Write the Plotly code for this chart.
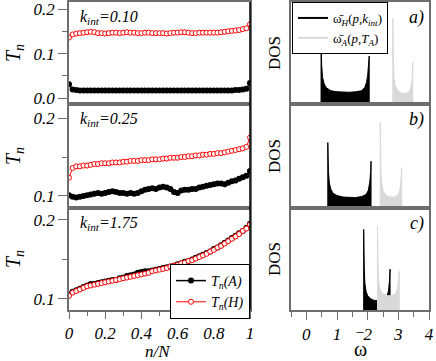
import plotly.graph_objects as go
from plotly.subplots import make_subplots

# n/N sample positions
nN = [0.00, 0.02, 0.04, 0.06, 0.08, 0.10, 0.12, 0.14, 0.16, 0.18,
      0.20, 0.22, 0.24, 0.26, 0.28, 0.30, 0.32, 0.34, 0.36, 0.38,
      0.40, 0.42, 0.44, 0.46, 0.48, 0.50, 0.52, 0.54, 0.56, 0.58,
      0.60, 0.62, 0.64, 0.66, 0.68, 0.70, 0.72, 0.74, 0.76, 0.78,
      0.80, 0.82, 0.84, 0.86, 0.88, 0.90, 0.92, 0.94, 0.96, 0.98, 1.00]

# k_int = 0.10
tA_010 = [0.031, 0.019, 0.018, 0.017, 0.017, 0.017, 0.017, 0.017, 0.017, 0.017,
          0.017, 0.017, 0.017, 0.017, 0.017, 0.017, 0.017, 0.017, 0.017, 0.017,
          0.017, 0.017, 0.017, 0.017, 0.017, 0.017, 0.017, 0.017, 0.017, 0.017,
          0.017, 0.017, 0.017, 0.017, 0.017, 0.017, 0.017, 0.017, 0.017, 0.017,
          0.017, 0.017, 0.017, 0.017, 0.017, 0.017, 0.018, 0.018, 0.019, 0.021, 0.034]
tH_010 = [0.136, 0.143, 0.145, 0.146, 0.147, 0.148, 0.149, 0.148, 0.146, 0.146,
          0.145, 0.146, 0.147, 0.147, 0.146, 0.147, 0.148, 0.147, 0.147, 0.146,
          0.146, 0.147, 0.147, 0.146, 0.146, 0.146, 0.146, 0.145, 0.146, 0.147,
          0.147, 0.148, 0.148, 0.147, 0.146, 0.146, 0.147, 0.147, 0.147, 0.147,
          0.147, 0.147, 0.148, 0.149, 0.150, 0.151, 0.152, 0.153, 0.155, 0.157, 0.166]

# k_int = 0.25
tA_025 = [0.101, 0.099, 0.098, 0.099, 0.100, 0.101, 0.102, 0.103, 0.104, 0.103,
          0.104, 0.105, 0.106, 0.105, 0.104, 0.104, 0.103, 0.104, 0.103, 0.104,
          0.106, 0.108, 0.109, 0.110, 0.109, 0.111, 0.112, 0.111, 0.109, 0.105,
          0.104, 0.107, 0.108, 0.108, 0.109, 0.109, 0.111, 0.112, 0.113, 0.114,
          0.115, 0.116, 0.116, 0.115, 0.117, 0.119, 0.120, 0.122, 0.124, 0.126, 0.132]
tH_025 = [0.1235, 0.136, 0.138, 0.138, 0.139, 0.139, 0.140, 0.141, 0.141, 0.142,
          0.142, 0.142, 0.143, 0.143, 0.143, 0.144, 0.144, 0.145, 0.145, 0.145,
          0.146, 0.146, 0.146, 0.147, 0.147, 0.147, 0.148, 0.148, 0.149, 0.149,
          0.149, 0.150, 0.150, 0.151, 0.151, 0.152, 0.152, 0.153, 0.153, 0.154,
          0.154, 0.155, 0.155, 0.156, 0.157, 0.158, 0.159, 0.160, 0.161, 0.163, 0.175]

# k_int = 1.75
tA_175 = [0.106, 0.109, 0.111, 0.113, 0.115, 0.117, 0.119, 0.119, 0.120, 0.121,
          0.122, 0.123, 0.124, 0.124, 0.126, 0.127, 0.129, 0.130, 0.131, 0.133,
          0.134, 0.135, 0.135, 0.136, 0.137, 0.138, 0.139, 0.140, 0.141, 0.142,
          0.144, 0.145, 0.147, 0.148, 0.150, 0.152, 0.154, 0.156, 0.158, 0.160,
          0.163, 0.165, 0.168, 0.171, 0.174, 0.177, 0.180, 0.183, 0.186, 0.190, 0.195]
tH_175 = [0.104, 0.108, 0.110, 0.112, 0.114, 0.116, 0.117, 0.118, 0.119, 0.120,
          0.121, 0.122, 0.123, 0.124, 0.125, 0.126, 0.127, 0.128, 0.129, 0.130,
          0.131, 0.132, 0.133, 0.135, 0.136, 0.137, 0.138, 0.139, 0.141, 0.142,
          0.143, 0.145, 0.146, 0.148, 0.149, 0.151, 0.153, 0.155, 0.157, 0.160,
          0.162, 0.165, 0.167, 0.170, 0.173, 0.176, 0.179, 0.182, 0.186, 0.189, 0.194]

# DOS curves (omega, density in arbitrary units)
wH_a = [0.48, 0.48, 0.50, 0.53, 0.58, 0.65, 0.80, 1.00, 1.20, 1.40, 1.60, 1.80, 1.90, 1.96, 2.00, 2.03, 2.05, 2.05]
dH_a = [0, 66, 38, 26, 20, 16, 13, 12, 11.5, 11.5, 12, 13, 16, 21, 28, 38, 47, 0]
wA_a = [2.82, 2.82, 2.84, 2.86, 2.90, 2.96, 3.05, 3.15, 3.25, 3.33, 3.39, 3.43, 3.46, 3.47, 3.47]
dA_a = [0, 84, 40, 26, 18, 14, 11.5, 10.5, 10.5, 11.5, 14, 19, 28, 41, 0]

wH_b = [0.70, 0.70, 0.72, 0.75, 0.80, 0.88, 1.00, 1.20, 1.40, 1.60, 1.80, 1.95, 2.02, 2.07, 2.10, 2.11, 2.11]
dH_b = [0, 63, 36, 24, 18, 14, 12, 10.5, 10, 10, 11, 13, 17, 25, 36, 45, 0]
wA_b = [2.41, 2.41, 2.43, 2.45, 2.49, 2.55, 2.65, 2.75, 2.85, 2.95, 3.02, 3.07, 3.10, 3.11, 3.11]
dA_b = [0, 82, 40, 26, 18, 14, 11.5, 10.5, 10.5, 11.5, 14, 20, 29, 39, 0]

wH_c = [1.87, 1.87, 1.89, 1.91, 1.95, 2.00, 2.10, 2.20, 2.30, 2.40, 2.50, 2.58, 2.64, 2.68, 2.71, 2.73, 2.73]
dH_c = [0, 79, 40, 26, 18, 14, 11, 9.5, 9, 9, 9.5, 11, 14, 19, 28, 40, 0]
wA_c = [2.32, 2.32, 2.34, 2.36, 2.40, 2.46, 2.56, 2.66, 2.76, 2.86, 2.93, 2.98, 3.01, 3.03, 3.03]
dA_c = [0, 82, 42, 28, 21, 17, 15, 14, 14, 15, 17, 22, 30, 38, 0]

kLabels = ["0.10", "0.25", "1.75"]
panelTags = ["a)", "b)", "c)"]

SERIF = "Liberation Serif, Times New Roman, serif"
GREY = "#d9d9d9"
FRAME = "#6e6e6e"

fig = make_subplots(rows=3, cols=2)

tnData = [(tA_010, tH_010), (tA_025, tH_025), (tA_175, tH_175)]
for i, (tA, tH) in enumerate(tnData):
    r = i + 1
    last = (r == 3)
    fig.add_trace(go.Scatter(x=nN, y=tA, mode="lines+markers", name="<i>T<sub>n</sub>(A)</i>",
                             line=dict(color="black", width=1.5),
                             marker=dict(color="black", size=6, symbol="circle"),
                             showlegend=last, legend="legend"), row=r, col=1)
    fig.add_trace(go.Scatter(x=nN, y=tH, mode="lines+markers", name="<i>T<sub>n</sub>(H)</i>",
                             line=dict(color="red", width=1),
                             marker=dict(color="white", size=5, symbol="circle",
                                         line=dict(color="red", width=1)),
                             showlegend=last, legend="legend"), row=r, col=1)

# H (black) first, A (grey) drawn over it
dosData = [(wH_a, dH_a, wA_a, dA_a), (wH_b, dH_b, wA_b, dA_b), (wH_c, dH_c, wA_c, dA_c)]
for i, (wH, dH, wA, dA) in enumerate(dosData):
    r = i + 1
    fig.add_trace(go.Scatter(x=wH, y=dH, mode="lines", fill="toself", fillcolor="black",
                             line=dict(color="black", width=1), showlegend=False), row=r, col=2)
    fig.add_trace(go.Scatter(x=wA, y=dA, mode="lines", fill="toself", fillcolor=GREY,
                             line=dict(color=GREY, width=1), showlegend=False), row=r, col=2)

# legend entries for the DOS panels
fig.add_trace(go.Scatter(x=[None], y=[None], mode="lines", line=dict(color="black", width=2),
                         name="ω\u0304<sub><i>H</i></sub>(<i>p</i>,<i>k<sub>int</sub></i>)",
                         legend="legend2"), row=1, col=2)
fig.add_trace(go.Scatter(x=[None], y=[None], mode="lines", line=dict(color=GREY, width=2),
                         name="ω\u0304<sub><i>A</i></sub>(<i>p</i>,<i>T<sub>A</sub></i>)",
                         legend="legend2"), row=1, col=2)

W, H = 436, 361
def px_x(a, b):
    return [a / W, b / W]
def px_y(top, bot):
    return [1 - bot / H, 1 - top / H]

rowsPx = [(2, 104), (104, 208), (208, 310)]
leftX = px_x(69, 250)
rightX = px_x(291, 429)

tickFont = dict(family=SERIF, size=17, color="black")
axCommon = dict(showline=True, mirror=True, linecolor=FRAME, linewidth=1.5, automargin=False,
                ticks="outside", tickcolor=FRAME, showgrid=False, zeroline=False)

yRanges = [[-0.0135, 0.216], [0.0846, 0.218], [0.086, 0.215]]
yTicks = [[0.0, 0.1, 0.2], [0.1, 0.2], [0.1, 0.2]]
xlTicks = [0, 0.2, 0.4, 0.6, 0.8, 1.0]
xlText = ["0", "0.2", "0.4", "0.6", "0.8", "1"]
xrTicks = [0, 1, 2, 3, 4]

for i in range(3):
    top, bot = rowsPx[i]
    ln = 2 * i + 1
    rn = 2 * i + 2
    xl = dict(axCommon, domain=leftX, range=[0, 1], tickvals=xlTicks,
              ticktext=["<i>%s</i>" % t for t in xlText], ticklen=7,
              minor=dict(dtick=0.1, ticks="outside", ticklen=4, tickcolor=FRAME),
              showticklabels=(i == 2), tickfont=tickFont, anchor="y%d" % ln)
    xr = dict(axCommon, domain=rightX, range=[-0.5, 4], tickvals=xrTicks,
              ticktext=["<i>%d</i>" % t for t in xrTicks], ticklen=8,
              minor=dict(dtick=0.5, tick0=0, ticks="outside", ticklen=5, tickcolor=FRAME),
              showticklabels=(i == 2), tickfont=tickFont, anchor="y%d" % rn)
    if i != 2:
        xl["ticks"] = ""
        xl["minor"] = dict(ticks="")
        xr["ticks"] = ""
        xr["minor"] = dict(ticks="")
    yl = dict(axCommon, domain=px_y(top, bot), range=yRanges[i], tickvals=yTicks[i],
              ticktext=["<i>%.1f</i>" % v for v in yTicks[i]], ticklen=9,
              minor=dict(dtick=0.05, ticks="outside", ticklen=5, tickcolor=FRAME),
              tickfont=tickFont, anchor="x%d" % ln,
              title=dict(text="<i>T<sub>n</sub></i>", font=dict(family=SERIF, size=20, color="black"), standoff=8))
    yr = dict(axCommon, domain=px_y(top, bot), range=[0, 100], ticks="", showticklabels=False,
              anchor="x%d" % rn,
              title=dict(text="DOS", font=dict(family=SERIF, size=17, color="black"), standoff=4))
    sfx = "" if ln == 1 else str(ln)
    fig.update_layout(**{"xaxis" + sfx: xl, "yaxis" + sfx: yl,
                         "xaxis%d" % rn: xr, "yaxis%d" % rn: yr})

    # right edge of the left panels is drawn darker in the original
    fig.add_shape(type="line", xref="x%s domain" % sfx, yref="y%s domain" % sfx,
                  x0=1, x1=1, y0=0, y1=1, line=dict(color="black", width=1.5))

    fig.add_annotation(xref="paper", yref="paper", x=78 / W, y=1 - (top + 16) / H,
                       xanchor="left", yanchor="middle", showarrow=False,
                       text="<i>k<sub>int</sub>=%s</i>" % kLabels[i],
                       font=dict(family=SERIF, size=16, color="black"))
    fig.add_annotation(xref="paper", yref="paper", x=426 / W, y=1 - (top + 16) / H,
                       xanchor="right", yanchor="middle", showarrow=False,
                       text="<i>%s</i>" % panelTags[i],
                       font=dict(family=SERIF, size=18, color="black"))

# axis titles under the bottom panels
fig.add_annotation(xref="paper", yref="paper", x=158 / W, y=1 - 351 / H,
                   xanchor="center", yanchor="middle", showarrow=False,
                   text="<i>n/N</i>", font=dict(family=SERIF, size=17, color="black"))
fig.add_annotation(xref="paper", yref="paper", x=360 / W, y=1 - 349 / H,
                   xanchor="center", yanchor="middle", showarrow=False,
                   text="ω", font=dict(family=SERIF, size=20, color="black"))
fig.add_annotation(xref="paper", yref="paper", x=360 / W, y=1 - 341 / H,
                   xanchor="center", yanchor="middle", showarrow=False,
                   text="\u203e", font=dict(family=SERIF, size=18, color="black"))

fig.update_layout(
    width=W, height=H,
    margin=dict(l=0, r=0, t=0, b=0),
    paper_bgcolor="white", plot_bgcolor="white",
    legend=dict(x=250 / W, y=1 - 264 / H, xanchor="right", yanchor="top",
                bordercolor="black", borderwidth=1, bgcolor="white",
                font=dict(family=SERIF, size=14, color="black"),
                itemwidth=30, tracegroupgap=0),
    legend2=dict(x=292 / W, y=1 - 2 / H, xanchor="left", yanchor="top",
                 bordercolor="black", borderwidth=1, bgcolor="white",
                 font=dict(family=SERIF, size=13, color="black"),
                 itemwidth=30, tracegroupgap=0),
)

# the page body has a default 8px margin; drop it so the figure sits at the window corner
fig.write_html("out.html", config={"displayModeBar": False},
               post_script="document.body.style.margin='0';")
